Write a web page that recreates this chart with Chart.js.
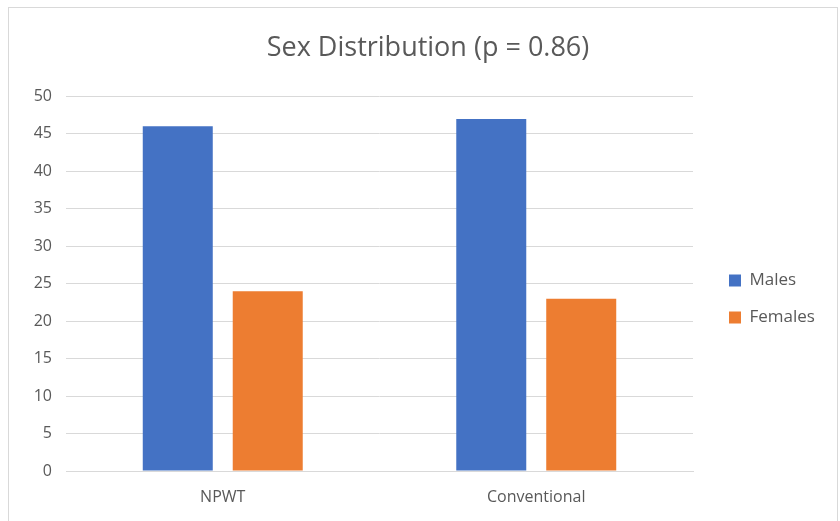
<!DOCTYPE html>
<html>
<head>
<meta charset="utf-8">
<script src="https://cdn.jsdelivr.net/npm/chart.js@4"></script>
<style>
  html, body { margin: 0; padding: 0; background: #fff; }
  #box { position: absolute; left: 8px; top: 7px; width: 830px; height: 520px; border: 1px solid #d9d9d9; box-sizing: border-box; background: #fff; }
  #wrap { position: absolute; left: 0; top: 0; width: 828px; height: 518px; }
</style>
</head>
<body>
<div id="box"><div id="wrap"><canvas id="c"></canvas></div></div>
<script>
const categories = ["NPWT", "Conventional"];
const males = [46, 47];
const females = [24, 23];
const seriesNames = ["Males", "Females"];
const chartTitle = "Sex Distribution (p = 0.86)";
const yTicks = [0, 5, 10, 15, 20, 25, 30, 35, 40, 45, 50];

const FONT = "'Open Sans', 'Noto Sans', sans-serif";
const TXT = "#595959";

const legendShift = {
  id: 'legendShift',
  afterLayout(chart) {
    const lg = chart.legend;
    if (lg) { lg.left += 16; lg.right += 16; lg.top += 32; lg.bottom += 32; }
  }
};

new Chart(document.getElementById('c'), {
  type: 'bar',
  data: {
    labels: categories,
    datasets: [
      { label: seriesNames[0], data: males, backgroundColor: '#4472C4', categoryPercentage: 0.574, barPercentage: 0.778 },
      { label: seriesNames[1], data: females, backgroundColor: '#ED7D31', categoryPercentage: 0.574, barPercentage: 0.778 }
    ]
  },
  options: {
    responsive: true,
    maintainAspectRatio: false,
    animation: false,
    layout: { padding: { top: 0, left: 10, right: 0, bottom: 0 } },
    plugins: {
      title: {
        display: true, text: chartTitle, color: TXT,
        font: { family: FONT, size: 27, weight: 'normal' },
        padding: { top: 24, bottom: 32 }
      },
      legend: {
        position: 'right',
        labels: {
          color: TXT, boxWidth: 12, boxHeight: 12, padding: 20,
          font: { family: FONT, size: 17 }
        }
      },
      tooltip: { enabled: false }
    },
    scales: {
      x: {
        grid: { display: false, drawTicks: false },
        border: { display: true, color: '#d9d9d9', width: 1 },
        ticks: { color: TXT, font: { family: FONT, size: 16 }, padding: 17 },
        afterFit(s) { s.height = 55; }
      },
      y: {
        min: 0, max: 50,
        afterBuildTicks(s) { s.ticks = yTicks.map(v => ({ value: v })); },
        grid: { color: '#d9d9d9', drawTicks: false },
        border: { display: false },
        ticks: { color: TXT, font: { family: FONT, size: 16 }, padding: 14 },
        afterFit(s) { s.width = 47; }
      }
    }
  },
  plugins: [legendShift, {
    id: 'legendWidth',
    beforeInit(chart) {
      const lg = chart.legend;
      if (lg) {
        const orig = lg.fit.bind(lg);
        lg.fit = function () { orig(); this.width = 144; };
      }
    }
  }]
});
</script>
</body>
</html>
